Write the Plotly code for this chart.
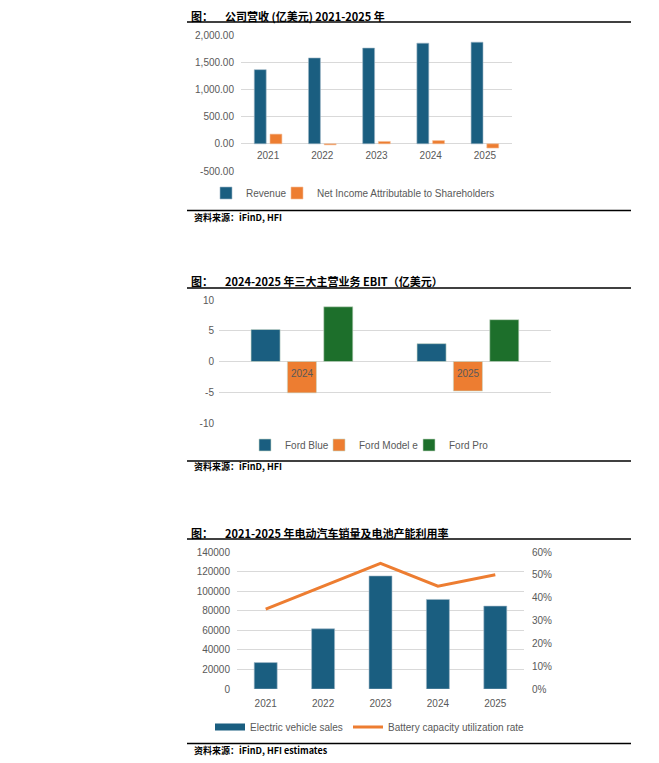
import plotly.graph_objects as go

# chart 1: revenue / net income (亿美元)
years = ["2021", "2022", "2023", "2024", "2025"]
revenue = [1363, 1578, 1760, 1850, 1868]
net_income = [178, -20, 43, 59, -78]
rev_ticks = [-500, 0, 500, 1000, 1500, 2000]

# chart 2: segment EBIT (亿美元)
ebit_years = ["2024", "2025"]
ford_blue = [5.2, 2.9]
ford_model_e = [-5.1, -4.8]
ford_pro = [8.9, 6.8]
ebit_ticks = [-10, -5, 0, 5, 10]

# chart 3: EV sales and battery utilization
ev_years = ["2021", "2022", "2023", "2024", "2025"]
ev_sales = [27000, 61500, 115500, 91500, 84700]
battery_util = [0.35, 0.45, 0.55, 0.45, 0.50]
ev_ticks = [0, 20000, 40000, 60000, 80000, 100000, 120000, 140000]
util_ticks = [0, 0.1, 0.2, 0.3, 0.4, 0.5, 0.6]

W, H = 659, 763
BODY = 8  # default page margin around the plot div
BLUE = "#1A5E80"
ORANGE = "#ED7D31"
GREEN = "#1D6F2B"
GREY = "#595959"
GRID = "#D9D9D9"
TXT = dict(family="Liberation Sans, Arial, sans-serif", size=10, color=GREY)
CJK = "Noto Sans CJK SC"


def px(x):
    return (x - BODY) / W


def py(y):
    return 1 - (y - BODY) / H


fig = go.Figure()

# ---- chart 1
fig.add_trace(go.Bar(x=years, y=revenue, name="Revenue", marker_color=BLUE,
                     marker_line=dict(color="#9FB7C6", width=0.6),
                     width=0.22, offset=-0.255, xaxis="x", yaxis="y", legend="legend"))
fig.add_trace(go.Bar(x=years, y=net_income, name="Net Income Attributable to Shareholders",
                     marker_color=ORANGE, marker_line=dict(color="#F5C09A", width=0.6),
                     width=0.22, offset=0.035, xaxis="x", yaxis="y", legend="legend2"))

# ---- chart 2
for name, vals, col, off, lg in [("Ford Blue", ford_blue, BLUE, -0.307, "legend3"),
                                 ("Ford Model e", ford_model_e, ORANGE, -0.088, "legend4"),
                                 ("Ford Pro", ford_pro, GREEN, 0.131, "legend5")]:
    fig.add_trace(go.Bar(x=ebit_years, y=vals, name=name, marker_color=col,
                         marker_line=dict(color="#C8D8C8", width=0.6),
                         width=0.175, offset=off, xaxis="x2", yaxis="y2", legend=lg))

# ---- chart 3
fig.add_trace(go.Scatter(x=[None], y=[None], mode="lines", name="Electric vehicle sales",
                         line=dict(color=BLUE, width=7), xaxis="x3", yaxis="y3",
                         legend="legend6"))
fig.add_trace(go.Bar(x=ev_years, y=ev_sales, name="Electric vehicle sales", marker_color=BLUE,
                     marker_line=dict(color="#9FB7C6", width=0.6), width=0.4,
                     showlegend=False, xaxis="x3", yaxis="y3"))
fig.add_trace(go.Scatter(x=ev_years, y=battery_util, mode="lines",
                         name="Battery capacity utilization rate",
                         line=dict(color=ORANGE, width=3), xaxis="x3", yaxis="y4",
                         legend="legend7"))

ax_common = dict(type="category", showgrid=False, zeroline=False, showline=False, ticks="",
                 tickfont=TXT, fixedrange=True)
y_common = dict(showgrid=True, gridcolor=GRID, gridwidth=1, zeroline=False,
                showline=False, ticks="", tickfont=TXT, fixedrange=True)


def leg(x_text, y):
    # one legend per entry, placed so its label starts near x_text
    return dict(orientation="h", x=px(x_text - 42), y=py(y), xanchor="left",
                yanchor="middle", font=TXT, itemwidth=30, bgcolor="rgba(0,0,0,0)")


fig.update_layout(
    width=W, height=H, margin=dict(l=0, r=0, t=0, b=0, autoexpand=False),
    paper_bgcolor="white", plot_bgcolor="white", barmode="overlay",
    showlegend=True,
    xaxis=dict(ax_common, domain=[px(241), px(512)], anchor="free",
               position=py(144), ticklabelstandoff=4),
    yaxis=dict(y_common, domain=[py(171), py(35)], range=[-500, 2000],
               tickvals=rev_ticks, ticktext=[f"{v:,.2f}" for v in rev_ticks],
               anchor="x", ticklabelstandoff=6),
    xaxis2=dict(ax_common, domain=[px(219), px(551)], anchor="free",
                position=py(362), ticklabelstandoff=4),
    yaxis2=dict(y_common, domain=[py(423), py(300)], range=[-10, 10],
                tickvals=ebit_ticks, ticktext=[str(v) for v in ebit_ticks],
                anchor="x2", ticklabelstandoff=4),
    xaxis3=dict(ax_common, domain=[px(237), px(524)], anchor="y3",
                categoryorder="array", categoryarray=ev_years, ticklabelstandoff=7),
    yaxis3=dict(y_common, domain=[py(689), py(552)], range=[0, 140000],
                tickvals=ev_ticks, ticktext=[str(v) for v in ev_ticks],
                anchor="x3", ticklabelstandoff=6),
    yaxis4=dict(y_common, showgrid=False, overlaying="y3", side="right",
                range=[0, 0.6], tickvals=util_ticks,
                ticktext=[f"{round(v * 100)}%" for v in util_ticks],
                anchor="x3", ticklabelstandoff=7),
    legend=leg(248, 193), legend2=leg(319, 193),
    legend3=leg(287, 445), legend4=leg(361, 445), legend5=leg(451, 445),
    legend6=leg(252, 727), legend7=leg(390, 727),
)

# titles, sources and rules
titles = [(16, "公司营收 (亿美元) 2021-2025 年"),
          (281, "2024-2025 年三大主营业务 EBIT（亿美元）"),
          (533, "2021-2025 年电动汽车销量及电池产能利用率")]
sources = [(217, "资料来源：iFinD, HFI"),
           (467, "资料来源：iFinD, HFI"),
           (750, "资料来源：iFinD, HFI estimates")]
rules = [22, 210.5, 288, 461, 539, 743.5]

for y, t in titles:
    fig.add_annotation(x=px(190), y=py(y), xref="paper", yref="paper", text="<b>图：</b>",
                       showarrow=False, xanchor="left", yanchor="middle", borderpad=0,
                       font=dict(family=CJK, size=11, color="black"))
    fig.add_annotation(x=px(224), y=py(y), xref="paper", yref="paper", text=f"<b>{t}</b>",
                       showarrow=False, xanchor="left", yanchor="middle", borderpad=0,
                       font=dict(family=CJK, size=11, color="black"))
for y, t in sources:
    fig.add_annotation(x=px(192), y=py(y), xref="paper", yref="paper", text=f"<b>{t}</b>",
                       showarrow=False, xanchor="left", yanchor="middle",
                       font=dict(family=CJK, size=9, color="black"))
for y in rules:
    fig.add_shape(type="line", xref="paper", yref="paper", x0=px(187), x1=px(631),
                  y0=py(y), y1=py(y), line=dict(color="black", width=1.5))

fig.write_html("out.html")
